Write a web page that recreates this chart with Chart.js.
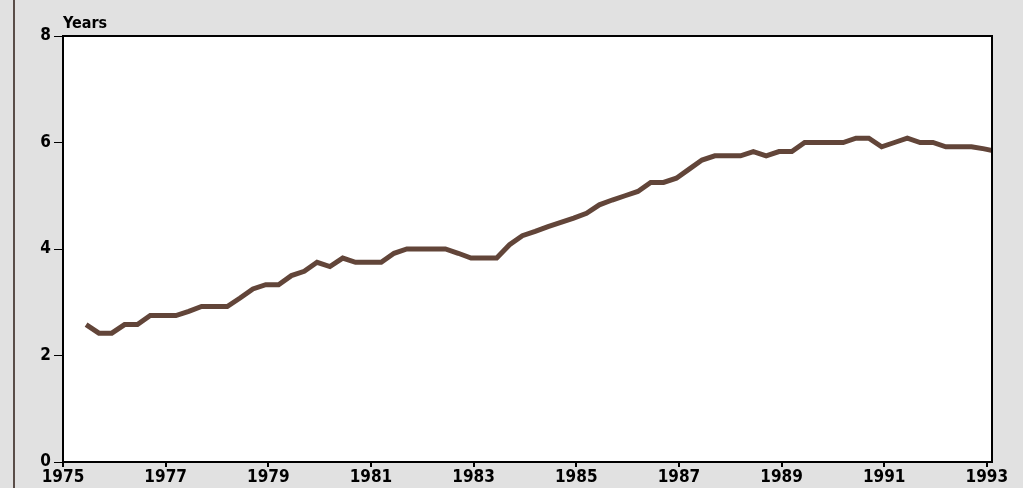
<!DOCTYPE html>
<html>
<head>
<meta charset="utf-8">
<script src="https://cdn.jsdelivr.net/npm/chart.js@4/dist/chart.umd.min.js"></script>
<style>
  html, body { margin: 0; padding: 0; background: #e1e1e1; }
  #wrap { width: 1023px; height: 488px; position: relative; }
</style>
</head>
<body>
<div id="wrap"><canvas id="myChart" width="1023" height="488"></canvas></div>
<script>
// ---- data (quarterly, 1975 Q3 .. 1993 Q2) ----
const firstYear = 1975;
const firstQuarter = 3;
const years = [
  2.58, 2.42, 2.42, 2.58, 2.58, 2.75, 2.75, 2.75, 2.83, 2.92,
  2.92, 2.92, 3.08, 3.25, 3.33, 3.33, 3.50, 3.58, 3.75, 3.67,
  3.83, 3.75, 3.75, 3.75, 3.92, 4.00, 4.00, 4.00, 4.00, 3.92,
  3.83, 3.83, 3.83, 4.08, 4.25, 4.33, 4.42, 4.50, 4.58, 4.67,
  4.83, 4.92, 5.00, 5.08, 5.25, 5.25, 5.33, 5.50, 5.67, 5.75,
  5.75, 5.75, 5.83, 5.75, 5.83, 5.83, 6.00, 6.00, 6.00, 6.00,
  6.08, 6.08, 5.92, 6.00, 6.08, 6.00, 6.00, 5.92, 5.92, 5.92,
  5.88, 5.83
];
const xTicks = [1975, 1977, 1979, 1981, 1983, 1985, 1987, 1989, 1991, 1993];
const yTicks = [0, 2, 4, 6, 8];

// quarter -> position on the year axis
const points = years.map((v, i) => {
  const q = firstQuarter - 1 + i;
  const yr = firstYear + Math.floor(q / 4);
  return { x: yr + (q % 4) / 4 - 0.05, y: v };
});

const FONT = "'Liberation Sans Narrow', 'DejaVu Sans Condensed', sans-serif";

// page background, white plot area, frame and the "Years" label
const framePlugin = {
  id: "frame",
  beforeDraw(chart) {
    const { ctx, chartArea: a } = chart;
    ctx.save();
    ctx.fillStyle = "#e1e1e1";
    ctx.fillRect(0, 0, chart.width, chart.height);
    ctx.fillStyle = "#5a4d48";
    ctx.fillRect(13, 0, 2, chart.height);
    ctx.fillStyle = "#ffffff";
    ctx.fillRect(a.left, a.top, a.right - a.left, a.bottom - a.top);
    ctx.fillStyle = "#000";
    ctx.font = "bold 16px " + FONT;
    ctx.textBaseline = "alphabetic";
    ctx.fillText("Years", a.left, 28);
    ctx.restore();
  },
  afterDraw(chart) {
    const { ctx, chartArea: a } = chart;
    ctx.save();
    ctx.strokeStyle = "#000";
    ctx.lineWidth = 2;
    ctx.strokeRect(a.left, a.top, a.right - a.left, a.bottom - a.top);
    ctx.restore();
  }
};

const ctx = document.getElementById("myChart").getContext("2d");
new Chart(ctx, {
  type: "line",
  data: {
    datasets: [{
      data: points,
      borderColor: "#624539",
      borderWidth: 5,
      pointRadius: 0,
      fill: false,
      tension: 0,
      clip: 0
    }]
  },
  options: {
    responsive: false,
    animation: false,
    layout: { padding: { left: 0, top: 36, right: 31, bottom: 0 } },
    plugins: { legend: { display: false }, tooltip: { enabled: false } },
    scales: {
      x: {
        type: "linear",
        min: 1975,
        max: 1993.1,
        afterBuildTicks: (s) => { s.ticks = xTicks.map(v => ({ value: v })); },
        afterFit: (s) => { s.height = 26; },
        border: { display: true, color: "#000", width: 2 },
        grid: { drawOnChartArea: false, drawTicks: true, tickLength: 5, color: "#000", lineWidth: 2 },
        ticks: {
          callback: (v) => String(v),
          color: "#000",
          font: { family: FONT, size: 17, weight: "bold" },
          padding: 0,
          maxRotation: 0,
          autoSkip: false
        }
      },
      y: {
        min: 0,
        max: 8,
        afterBuildTicks: (s) => { s.ticks = yTicks.map(v => ({ value: v })); },
        afterFit: (s) => { s.width = 63; },
        border: { display: true, color: "#000", width: 2 },
        grid: { drawOnChartArea: false, drawTicks: true, tickLength: 9, color: "#000", lineWidth: 1 },
        ticks: {
          color: "#000",
          font: { family: FONT, size: 17, weight: "bold" },
          padding: 3
        }
      }
    }
  },
  plugins: [framePlugin]
});
</script>
</body>
</html>
